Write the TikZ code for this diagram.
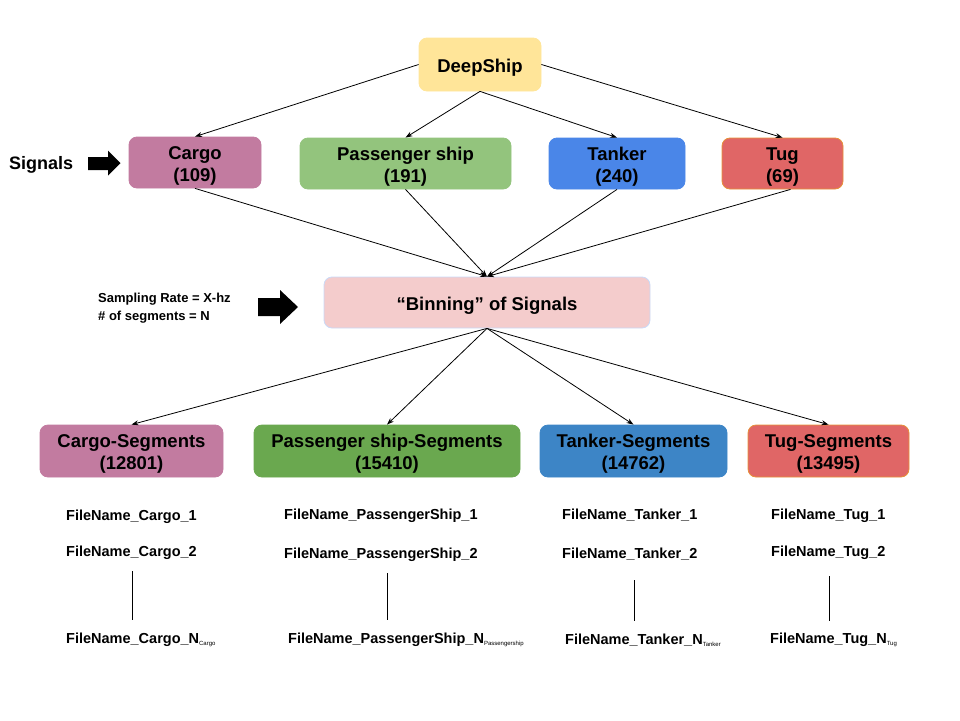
\documentclass[tikz,border=0pt]{standalone}
\usepackage{fontspec}
\setmainfont{Liberation Sans}
\usetikzlibrary{arrows.meta}
\definecolor{cdeep}{HTML}{FFE599}
\definecolor{ccargo}{HTML}{C27BA0}
\definecolor{cpass}{HTML}{93C47D}
\definecolor{ctank}{HTML}{4A86E8}
\definecolor{ctug}{HTML}{E06666}
\definecolor{ctugb}{HTML}{E69138}
\definecolor{cbin}{HTML}{F4CCCC}
\definecolor{cbinb}{HTML}{C9DAF8}
\definecolor{cpass2}{HTML}{6AA84F}
\definecolor{ctank2}{HTML}{3D85C6}
\tikzset{
  box/.style={rounded corners=8pt, align=center, inner sep=0pt, line width=0.8pt,
    font=\fontsize{18.5}{22}\selectfont\bfseries},
  conn/.style={-{Stealth[length=7pt,width=5pt]}, line width=0.8pt},
  fname/.style={font=\fontsize{14.5}{17}\selectfont\bfseries, inner sep=0pt, anchor=base west},
  side/.style={inner sep=0pt, anchor=west, align=left},
  vline/.style={line width=0.8pt},
}
\newcommand{\ts}{\rule{0pt}{19.5pt}}
\newcommand{\subN}[1]{N\raisebox{-2.5pt}{\fontsize{6}{7}\selectfont\mdseries #1}}
\begin{document}
\begin{tikzpicture}[x=1pt,y=-1pt]
\useasboundingbox (0,0) rectangle (960,720);
% top
\node[box, fill=cdeep, draw=cdeep, minimum width=122, minimum height=53] (deep) at (480,64.5) {\ts DeepShip};
\node[box, fill=ccargo, draw=ccargo, minimum width=132, minimum height=51] (cargo) at (195,162.5) {\ts Cargo\\(109)};
\node[box, fill=cpass, draw=cpass, minimum width=211, minimum height=51] (pass) at (405.5,163.5) {\ts Passenger ship\\(191)};
\node[box, fill=ctank, draw=ctank, minimum width=136, minimum height=51] (tank) at (617,163.5) {\ts Tanker\\(240)};
\node[box, fill=ctug, draw=ctugb, minimum width=121, minimum height=51] (tug) at (782.5,163.5) {\ts Tug\\(69)};
% signals
\node[side, font=\fontsize{18}{22}\selectfont\bfseries] (sig) at (9,165) {Signals};
\fill (88,157) -- (108,157) -- (108,150.5) -- (120.5,163) -- (108,175.5) -- (108,170) -- (88,170) -- cycle;
% binning
\node[box, fill=cbin, draw=cbinb, minimum width=326, minimum height=51] (bin) at (487,302.5) {\ts``Binning'' of Signals};
\node[side, font=\fontsize{13}{18}\selectfont\bfseries] (samp) at (98,308.5) {Sampling Rate = X-hz\\\# of segments = N};
\fill (258,298) -- (280,298) -- (280,290) -- (298,307) -- (280,324) -- (280,316) -- (258,316) -- cycle;
% segments
\node[box, fill=ccargo, draw=ccargo, minimum width=183, minimum height=52] (cargos) at (131.5,451) {\ts Cargo-Segments\\(12801)};
\node[box, fill=cpass2, draw=cpass2, minimum width=266, minimum height=52] (passs) at (387,451) {\ts Passenger ship-Segments\\(15410)};
\node[box, fill=ctank2, draw=ctank2, minimum width=187, minimum height=52] (tanks) at (633.5,451) {\ts Tanker-Segments\\(14762)};
\node[box, fill=ctug, draw=ctugb, minimum width=161, minimum height=52] (tugs) at (828.5,451) {\ts Tug-Segments\\(13495)};
% connectors
\draw[conn] (deep.west) -- (cargo.north);
\draw[conn] (deep.south) -- (pass.north);
\draw[conn] (deep.south) -- (tank.north);
\draw[conn] (deep.east) -- (tug.north);
\draw[conn] (cargo.south) -- (bin.north);
\draw[conn] (pass.south) -- (bin.north);
\draw[conn] (tank.south) -- (bin.north);
\draw[conn] ([xshift=8pt]tug.south) -- (bin.north);
\draw[conn] (bin.south) -- (cargos.north);
\draw[conn] (bin.south) -- (passs.north);
\draw[conn] (bin.south) -- (tanks.north);
\draw[conn] (bin.south) -- (tugs.north);
% file names
\node[fname] (c1) at (66,520) {FileName\_Cargo\_1};
\node[fname] (c2) at (66,556) {FileName\_Cargo\_2};
\node[fname] (cn) at (66,643) {FileName\_Cargo\_\subN{Cargo}};
\node[fname] (p1) at (284,519) {FileName\_PassengerShip\_1};
\node[fname] (p2) at (284,558) {FileName\_PassengerShip\_2};
\node[fname] (pn) at (288,643) {FileName\_PassengerShip\_\subN{Passengership}};
\node[fname] (t1) at (562,519) {FileName\_Tanker\_1};
\node[fname] (t2) at (562,558) {FileName\_Tanker\_2};
\node[fname] (tn) at (565,644) {FileName\_Tanker\_\subN{Tanker}};
\node[fname] (g1) at (771,519) {FileName\_Tug\_1};
\node[fname] (g2) at (771,556) {FileName\_Tug\_2};
\node[fname] (gn) at (770,643) {FileName\_Tug\_\subN{Tug}};
\coordinate (ca) at (132,571); \coordinate (cb) at (132,620);
\coordinate (pa) at (387,573); \coordinate (pb) at (387,620);
\coordinate (ta) at (634,580); \coordinate (tb) at (634,621);
\coordinate (ga) at (829,576); \coordinate (gb) at (829,621);
\draw[vline] (ca) -- (cb);
\draw[vline] (pa) -- (pb);
\draw[vline] (ta) -- (tb);
\draw[vline] (ga) -- (gb);
\end{tikzpicture}
\end{document}
